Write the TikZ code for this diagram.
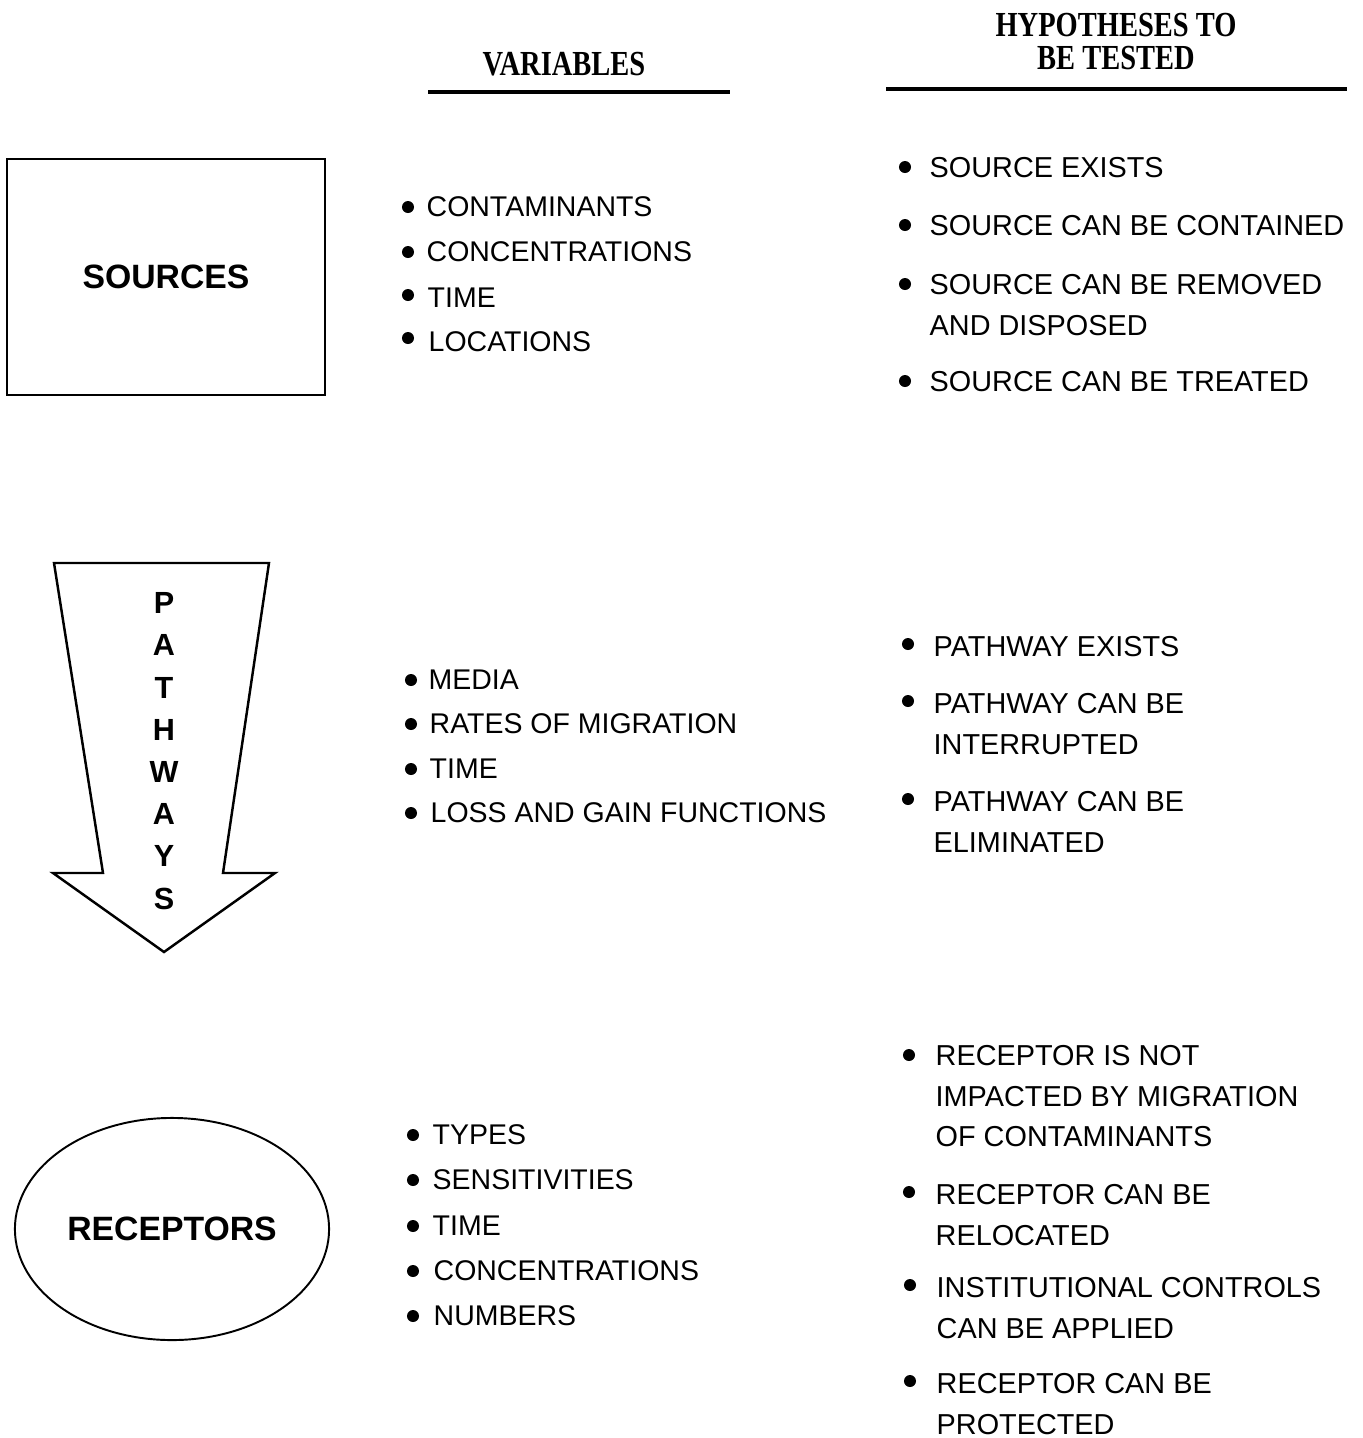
\documentclass[tikz,border=0pt]{standalone}
\usepackage{fontspec}
\setmainfont{Liberation Sans}
\newfontfamily\headfont[FakeStretch=0.81]{Liberation Serif}
\usetikzlibrary{shapes.geometric}
\begin{document}
\begin{tikzpicture}[x=0.01cm,y=-0.01cm,
		bul/.style={circle,fill=black,inner sep=0pt,minimum size=0.12cm},
		item/.style={anchor=west,inner sep=0pt,font=\fontsize{8.1}{11.5}\selectfont},
		hyp/.style={anchor=north west,inner sep=0pt,align=left,font=\fontsize{8.2}{11.5}\selectfont},
		head/.style={inner sep=0pt,anchor=base,font=\headfont\bfseries\fontsize{10}{10}\selectfont},
		big/.style={font=\bfseries\fontsize{9.6}{11}\selectfont},
		rule/.style={line width=1.15pt}]
		\useasboundingbox (0,0) rectangle (1362,1438);
		% headings
		\node[head](hvar) at (564,75){VARIABLES};
		\node[head](hhyp) at (1116,36){HYPOTHESES TO};
		\node[head](hhyp2) at (1116,69){BE TESTED};
		\draw[rule](428,92)--(730,92);
		\draw[rule](886,89)--(1347,89);
		% sources
		\node[draw,line width=0.6pt,inner sep=0pt,minimum width=3.17cm,minimum height=2.36cm,big](src) at (166,277){SOURCES};
		\node[bul](sb1) at (408,207){};
		\node[bul](sb2) at (408,252){};
		\node[bul](sb3) at (408,295){};
		\node[bul](sb4) at (408,338){};
		\node[item](sv1) at (426,207){CONTAMINANTS};
		\node[item](sv2) at (426,252){CONCENTRATIONS};
		\node[item](sv3) at (427,298){TIME};
		\node[item](sv4) at (428,342){LOCATIONS};
		\node[bul](sh1b) at (905,167){};
		\node[bul](sh2b) at (905,225){};
		\node[bul](sh3b) at (905,284){};
		\node[bul](sh4b) at (905,381){};
		\node[hyp](sh1) at (929,157){SOURCE EXISTS};
		\node[hyp](sh2) at (929,215){SOURCE CAN BE CONTAINED};
		\node[hyp](sh3) at (929,274){SOURCE CAN BE REMOVED\\AND DISPOSED};
		\node[hyp](sh4) at (929,371){SOURCE CAN BE TREATED};
		% pathways
		\draw[line width=0.7pt,line join=miter](54,563)--(269,563)--(223,873)--(275,873)--(164,952)--(53,873)--(103,873)--cycle;
		\node[inner sep=0pt,anchor=north,align=center,font=\bfseries\fontsize{8.7}{12}\selectfont](pth) at (164,592){P\\A\\T\\H\\W\\A\\Y\\S};
		\node[bul](pb1) at (411,680){};
		\node[bul](pb2) at (411,724){};
		\node[bul](pb3) at (411,769){};
		\node[bul](pb4) at (411,813){};
		\node[item](pv1) at (428,680){MEDIA};
		\node[item](pv2) at (429,724){RATES OF MIGRATION};
		\node[item](pv3) at (429,769){TIME};
		\node[item](pv4) at (430,813){LOSS AND GAIN FUNCTIONS};
		\node[bul](ph1b) at (908,644){};
		\node[bul](ph2b) at (908,701){};
		\node[bul](ph3b) at (908,799){};
		\node[hyp](ph1) at (933,636){PATHWAY EXISTS};
		\node[hyp](ph2) at (933,693){PATHWAY CAN BE\\INTERRUPTED};
		\node[hyp](ph3) at (933,791){PATHWAY CAN BE\\ELIMINATED};
		% receptors
		\node[draw,ellipse,line width=0.55pt,inner sep=0pt,minimum width=3.14cm,minimum height=2.22cm,big](rcp) at (172,1229){RECEPTORS};
		\node[bul](rb1) at (413,1135){};
		\node[bul](rb2) at (413,1180){};
		\node[bul](rb3) at (413,1226){};
		\node[bul](rb4) at (413,1271){};
		\node[bul](rb5) at (413,1316){};
		\node[item](rv1) at (432,1135){TYPES};
		\node[item](rv2) at (432,1180){SENSITIVITIES};
		\node[item](rv3) at (432,1226){TIME};
		\node[item](rv4) at (433,1271){CONCENTRATIONS};
		\node[item](rv5) at (433,1316){NUMBERS};
		\node[bul](rh1b) at (909,1055){};
		\node[bul](rh2b) at (909,1192){};
		\node[bul](rh3b) at (910,1285){};
		\node[bul](rh4b) at (910,1381){};
		\node[hyp](rh1) at (935,1045){RECEPTOR IS NOT\\IMPACTED BY MIGRATION\\OF CONTAMINANTS};
		\node[hyp](rh2) at (935,1184){RECEPTOR CAN BE\\RELOCATED};
		\node[hyp](rh3) at (936,1277){INSTITUTIONAL CONTROLS\\CAN BE APPLIED};
		\node[hyp](rh4) at (936,1373){RECEPTOR CAN BE\\PROTECTED};
\end{tikzpicture}
\end{document}
